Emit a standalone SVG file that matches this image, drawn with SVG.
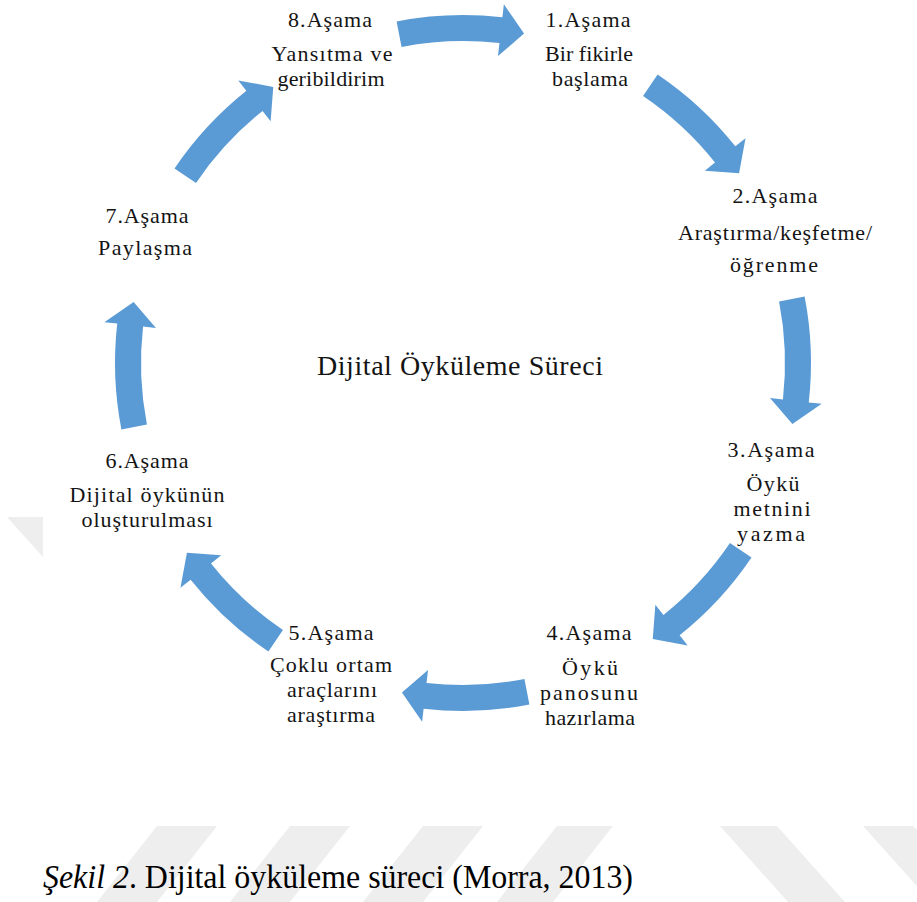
<svg xmlns="http://www.w3.org/2000/svg" xmlns:xlink="http://www.w3.org/1999/xlink" width="917" height="902" viewBox="0 0 917 902">
  <style>
    .lbl { font-family: "Liberation Serif", "Times New Roman", serif; font-size: 22px; fill: #141414; text-anchor: middle; }
    .title { font-family: "Liberation Serif", "Times New Roman", serif; font-size: 28px; fill: #141414; text-anchor: middle; }
    .cap { font-family: "Liberation Serif", "Times New Roman", serif; font-size: 33px; fill: #000; }
    .wm { fill: #eeeeee; }
    .arrow { fill: #5b9bd5; }
  </style>
  <defs>
    <!-- curved block arrow on a circle of radius 335, centred on the origin, pointing clockwise -->
    <path id="arc" d="M 341.61,-66.40 A 348 348 0 0 1 345.76,39.39 L 358.68,40.87 L 329.39,61.05 L 307.01,34.98 L 319.93,36.45 A 322 322 0 0 0 316.08,-61.44 Z"/>
  </defs>
  <rect width="917" height="902" fill="#fff"/>

  <!-- faint background stripes -->
  <g id="watermark">
    <polygon class="wm" points="7,517 43,517 43,557"/>
    <polygon class="wm" points="157,826 217,826 157,902 97,902"/>
    <polygon class="wm" points="290,826 350,826 290,902 230,902"/>
    <polygon class="wm" points="423,826 483,826 423,902 363,902"/>
    <polygon class="wm" points="557,826 613,826 553,902 497,902"/>
    <polygon class="wm" points="720,826 777,826 845,902 788,902"/>
    <polygon class="wm" points="863,826 913,826 917,830 917,902 931,902"/>
  </g>

  <!-- cycle arrows -->
  <g id="connectors" class="arrow">
    <use xlink:href="#arc" transform="translate(463 363) rotate(-90)"/>
    <use xlink:href="#arc" transform="translate(463 363) rotate(-45)"/>
    <use xlink:href="#arc" transform="translate(463 363)"/>
    <use xlink:href="#arc" transform="translate(463 363) rotate(45)"/>
    <use xlink:href="#arc" transform="translate(463 363) rotate(90)"/>
    <use xlink:href="#arc" transform="translate(463 363) rotate(135)"/>
    <use xlink:href="#arc" transform="translate(463 363) rotate(180)"/>
    <use xlink:href="#arc" transform="translate(463 363) rotate(225)"/>
  </g>

  <g id="stage1">
    <text class="lbl" x="588" y="27" textLength="85">1.Aşama</text>
    <text class="lbl" x="589" y="61" textLength="88">Bir fikirle</text>
    <text class="lbl" x="590" y="86" textLength="76">başlama</text>
  </g>
  <g id="stage2">
    <text class="lbl" x="775" y="203" textLength="85">2.Aşama</text>
    <text class="lbl" x="775" y="240" textLength="194">Araştırma/keşfetme/</text>
    <text class="lbl" x="774" y="272" textLength="88">öğrenme</text>
  </g>
  <g id="stage3">
    <text class="lbl" x="771" y="457" textLength="87">3.Aşama</text>
    <text class="lbl" x="773" y="491" textLength="53">Öykü</text>
    <text class="lbl" x="772" y="516" textLength="77">metnini</text>
    <text class="lbl" x="771" y="541" textLength="68">yazma</text>
  </g>
  <g id="stage4">
    <text class="lbl" x="589" y="640" textLength="85">4.Aşama</text>
    <text class="lbl" x="590" y="675" textLength="56">Öykü</text>
    <text class="lbl" x="589" y="700" textLength="98">panosunu</text>
    <text class="lbl" x="590" y="725" textLength="90">hazırlama</text>
  </g>
  <g id="stage5">
    <text class="lbl" x="331" y="640" textLength="85">5.Aşama</text>
    <text class="lbl" x="331" y="672" textLength="122">Çoklu ortam</text>
    <text class="lbl" x="332" y="697" textLength="90">araçlarını</text>
    <text class="lbl" x="331" y="722" textLength="88">araştırma</text>
  </g>
  <g id="stage6">
    <text class="lbl" x="147" y="468" textLength="83">6.Aşama</text>
    <text class="lbl" x="147" y="502" textLength="155">Dijital öykünün</text>
    <text class="lbl" x="147" y="527" textLength="131">oluşturulması</text>
  </g>
  <g id="stage7">
    <text class="lbl" x="147" y="223" textLength="83">7.Aşama</text>
    <text class="lbl" x="145" y="255" textLength="94">Paylaşma</text>
  </g>
  <g id="stage8">
    <text class="lbl" x="330" y="27" textLength="84">8.Aşama</text>
    <text class="lbl" x="332" y="61" textLength="121">Yansıtma ve</text>
    <text class="lbl" x="331" y="86" textLength="107">geribildirim</text>
  </g>

  <g id="center">
    <text class="title" x="460" y="375" textLength="286">Dijital Öyküleme Süreci</text>
  </g>

  <text class="cap" x="43" y="888" textLength="590" lengthAdjust="spacingAndGlyphs"><tspan font-style="italic">Şekil 2</tspan>. Dijital öyküleme süreci (Morra, 2013)</text>
</svg>
